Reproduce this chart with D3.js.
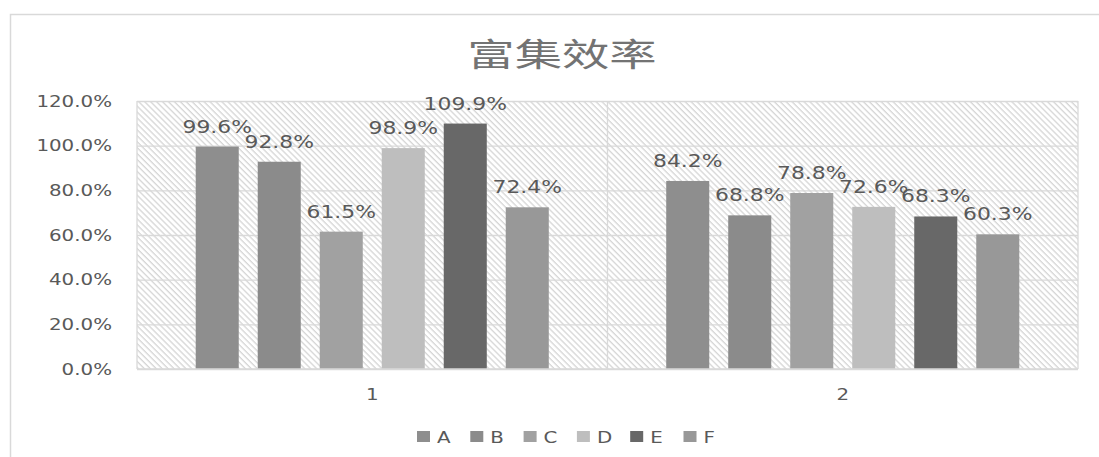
<!DOCTYPE html>
<html>
<head>
<meta charset="utf-8">
<script src="https://cdn.jsdelivr.net/npm/d3@7"></script>
<style>
html,body{margin:0;padding:0;background:#fff;}
svg{display:block;}
</style>
</head>
<body>
<svg id="chart" width="1099" height="457"></svg>
<script>
const categories = ["1", "2"];
const seriesNames = ["A", "B", "C", "D", "E", "F"];
const valuesA = [0.996, 0.842];
const valuesB = [0.928, 0.688];
const valuesC = [0.615, 0.788];
const valuesD = [0.989, 0.726];
const valuesE = [1.099, 0.683];
const valuesF = [0.724, 0.603];
const yTicks = [0, 0.2, 0.4, 0.6, 0.8, 1.0, 1.2];
const title = "富集效率";

const seriesValues = [valuesA, valuesB, valuesC, valuesD, valuesE, valuesF];
const colors = ["#8e8e8e", "#8b8b8b", "#a1a1a1", "#bebebe", "#686868", "#989898"];

const svg = d3.select("#chart");
const W = 1099, H = 457;
const plot = {left: 137, right: 1078, top: 101, bottom: 369};

function stretchedText(g, x, y, str, opts) {
  return g.append("text")
    .attr("transform", `translate(${x},${y}) scale(${opts.sx},1)`)
    .attr("text-anchor", opts.anchor || "middle")
    .attr("font-family", opts.family || "'DejaVu Sans', Verdana, sans-serif")
    .attr("font-size", opts.size)
    .attr("fill", opts.fill || "#595959")
    .attr("dominant-baseline", opts.baseline || "auto")
    .text(str);
}

// defs: hatch pattern
const defs = svg.append("defs");
const pat = defs.append("pattern")
  .attr("id", "hatch")
  .attr("patternUnits", "userSpaceOnUse")
  .attr("width", 4.2).attr("height", 4.2)
  .attr("patternTransform", "rotate(-45)");
pat.append("rect").attr("width", 4.2).attr("height", 4.2).attr("fill", "#ffffff");
pat.append("line").attr("x1", 1).attr("y1", 0).attr("x2", 1).attr("y2", 4.2)
  .attr("stroke", "#d2d2d2").attr("stroke-width", 1.2);

// outer chart border
svg.append("rect")
  .attr("x", 10.5).attr("y", 14.5).attr("width", W + 20).attr("height", H + 20)
  .attr("fill", "#fff").attr("stroke", "#d9d9d9").attr("stroke-width", 1.5);

// title
stretchedText(svg, 562, 66, title, {size: 32, sx: 1.48, family: "'Noto Sans CJK SC', sans-serif", fill: "#737373"});

// scales
const y = d3.scaleLinear().domain([0, 1.2]).range([plot.bottom, plot.top]);
const x0 = d3.scaleBand().domain(categories).range([plot.left, plot.right]).paddingInner(0).paddingOuter(0);
const x1 = d3.scaleBand().domain(seriesNames).range([0, x0.bandwidth()]).paddingInner(0.306).paddingOuter(0.947);

// plot area background hatch
svg.append("rect")
  .attr("x", plot.left).attr("y", plot.top)
  .attr("width", plot.right - plot.left).attr("height", plot.bottom - plot.top)
  .attr("fill", "url(#hatch)");

// horizontal gridlines via axis
const grid = svg.append("g")
  .attr("transform", `translate(${plot.left},0)`)
  .call(d3.axisLeft(y).tickValues(yTicks).tickSize(-(plot.right - plot.left)).tickFormat(""));
grid.select(".domain").remove();
grid.selectAll(".tick line").attr("stroke", "#d9d9d9").attr("stroke-width", 1.3);

// vertical category gridlines
const vlines = [plot.left, ...categories.slice(1).map(c => x0(c)), plot.right];
svg.append("g").selectAll("line").data(vlines).join("line")
  .attr("x1", d => d).attr("x2", d => d)
  .attr("y1", plot.top).attr("y2", plot.bottom)
  .attr("stroke", "#d9d9d9").attr("stroke-width", 1.3);

// y-axis labels
const yAxisG = svg.append("g");
yTicks.forEach(t => {
  stretchedText(yAxisG, 112, y(t), d3.format(".1%")(t), {size: 15.5, sx: 1.28, anchor: "end", baseline: "central", fill: "#595959"});
});

// bars
const barsG = svg.append("g");
seriesNames.forEach((s, si) => {
  const vals = seriesValues[si];
  barsG.append("g").selectAll("rect")
    .data(categories.map((c, ci) => ({c, v: vals[ci]})))
    .join("rect")
    .attr("x", d => x0(d.c) + x1(s))
    .attr("y", d => y(d.v))
    .attr("width", x1.bandwidth())
    .attr("height", d => y(0) - y(d.v))
    .attr("fill", colors[si]);
});

// data labels
const labG = svg.append("g");
seriesNames.forEach((s, si) => {
  const vals = seriesValues[si];
  categories.forEach((c, ci) => {
    const cx = x0(c) + x1(s) + x1.bandwidth() / 2;
    stretchedText(labG, cx, y(vals[ci]) - 14, d3.format(".1%")(vals[ci]), {size: 17.5, sx: 1.25, fill: "#595959"});
  });
});

// bottom axis line
svg.append("line")
  .attr("x1", plot.left).attr("x2", plot.right)
  .attr("y1", plot.bottom).attr("y2", plot.bottom)
  .attr("stroke", "#d9d9d9").attr("stroke-width", 1.3);

// x-axis labels
categories.forEach(c => {
  stretchedText(svg, x0(c) + x0.bandwidth() / 2, 400, c, {size: 15.5, sx: 1.28, fill: "#595959"});
});

// legend
const legendG = svg.append("g");
const legX0 = 417, legStep = 53.3, legY = 436;
seriesNames.forEach((s, si) => {
  const lx = legX0 + si * legStep;
  legendG.append("rect")
    .attr("x", lx).attr("y", legY - 5).attr("width", 13).attr("height", 11)
    .attr("fill", colors[si]);
  stretchedText(legendG, lx + 20, legY + 6.5, s, {size: 15.5, sx: 1.28, anchor: "start", fill: "#595959"});
});
</script>
</body>
</html>
